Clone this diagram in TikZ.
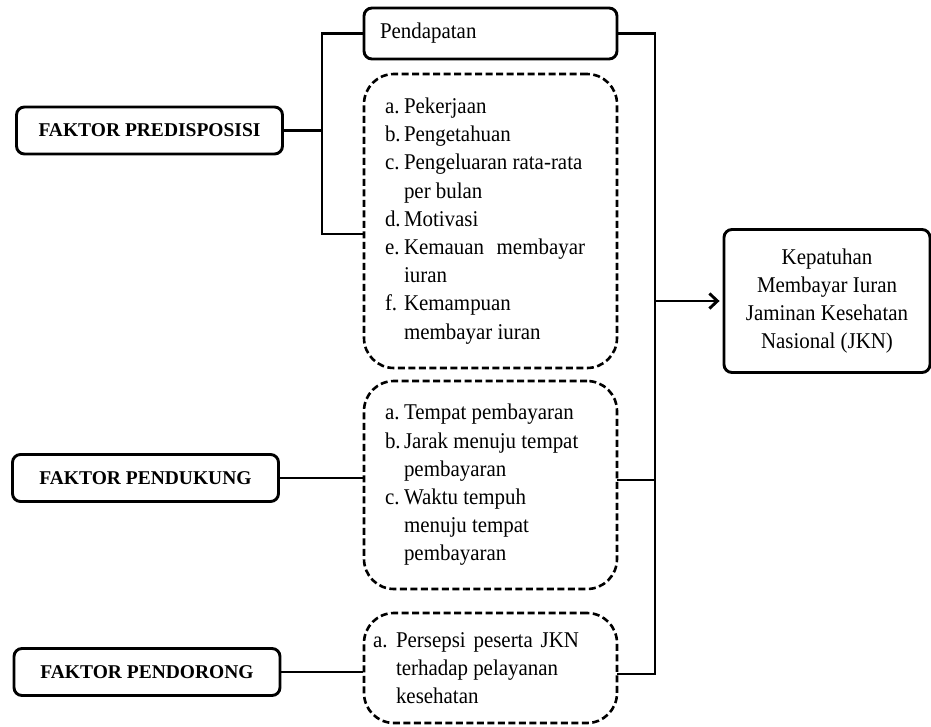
\documentclass[tikz,border=0pt]{standalone}
\usepackage{fontspec}
\setmainfont[FakeStretch=0.93]{Liberation Serif}
\newfontfamily\plainserif{Liberation Serif}
\usetikzlibrary{arrows.meta}

% one list item with hanging label
\newcommand{\itm}[3][19pt]{\hangindent=#1\hangafter=1\noindent\makebox[#1][l]{#2}#3\par}

\begin{document}
\begin{tikzpicture}[x=1pt,y=-1pt,
  every node/.style={font=\fontsize{22.5}{28.2}\selectfont},
  solidbox/.style={draw,line width=2.9pt,rounded corners=8pt,inner sep=0pt},
  dashbox/.style={draw,line width=2.6pt,dash pattern=on 7pt off 3.5pt,rounded corners=30pt,inner sep=0pt,minimum width=253pt},
  faktor/.style={solidbox,minimum width=266pt,minimum height=47pt,font=\plainserif\bfseries\fontsize{19.5}{22}\selectfont},
  link/.style={line width=2.9pt}]

\useasboundingbox (0,0) rectangle (931,726);

% Pendapatan
\node[solidbox,minimum height=51pt,text width=221pt,inner xsep=16pt,align=left] (pend) at (490.5,33.5) {Pendapatan};

% Dashed lists
\node[dashbox,minimum height=294pt] (list1) at (490.5,221) {\begin{minipage}{200pt}\raggedright\hyphenpenalty=10000\exhyphenpenalty=10000
\itm{a.}{Pekerjaan}
\itm{b.}{Pengetahuan}
\itm{c.}{Pengeluaran rata-rata per bulan}
\itm{d.}{Motivasi}
\itm{e.}{Kemauan\hfill membayar\newline iuran}
\itm{f.}{Kemampuan membayar iuran}
\end{minipage}\kern11pt};

\node[dashbox,minimum height=208pt] (list2) at (490.5,485) {\begin{minipage}{200pt}\raggedright\hyphenpenalty=10000\exhyphenpenalty=10000
\itm{a.}{Tempat pembayaran}
\itm{b.}{Jarak menuju tempat pembayaran}
\itm{c.}{Waktu tempuh menuju tempat pembayaran}
\end{minipage}\kern11pt};

\node[dashbox,minimum height=110pt] (list3) at (490.5,668) {\begin{minipage}{206pt}\raggedright\hyphenpenalty=10000
\itm[23pt]{a.}{Persepsi\hfill peserta\hfill JKN\newline terhadap pelayanan kesehatan}
\end{minipage}\kern29pt};

% Faktor boxes
\node[faktor] (pred) at (149.5,130.5) {FAKTOR PREDISPOSISI};
\node[faktor] (dukung) at (145.5,478) {FAKTOR PENDUKUNG};
\node[faktor] (dorong) at (147,672) {FAKTOR PENDORONG};

% Result
\node[solidbox,minimum width=206pt,minimum height=143pt,align=center] (kep) at (827,301) {Kepatuhan\\Membayar Iuran\\Jaminan Kesehatan\\Nasional (JKN)};

% Left bracket
\coordinate (lbar) at (322,130.5);
\coordinate (l1in) at (364,234);
\draw[link] (pred.east) -- (lbar);
\draw[link] (pend.west) -| (lbar) |- (l1in);

% Right bracket
\coordinate (rbar) at (655,301);
\coordinate (l2out) at (617,480);
\coordinate (l3out) at (617,674);
\draw[link] (pend.east) -| (rbar);
\draw[link] (l3out) -| (rbar);
\draw[link] (l2out) -- (l2out -| rbar);
\draw[link,-{Straight Barb[length=8pt,width=15pt]},shorten >=3pt] (rbar) -- (kep.west);

% Pendukung and Pendorong
\draw[link] (dukung.east) -- (dukung.east -| list2.west);
\draw[link] (dorong.east) -- (dorong.east -| list3.west);

\end{tikzpicture}
\end{document}
